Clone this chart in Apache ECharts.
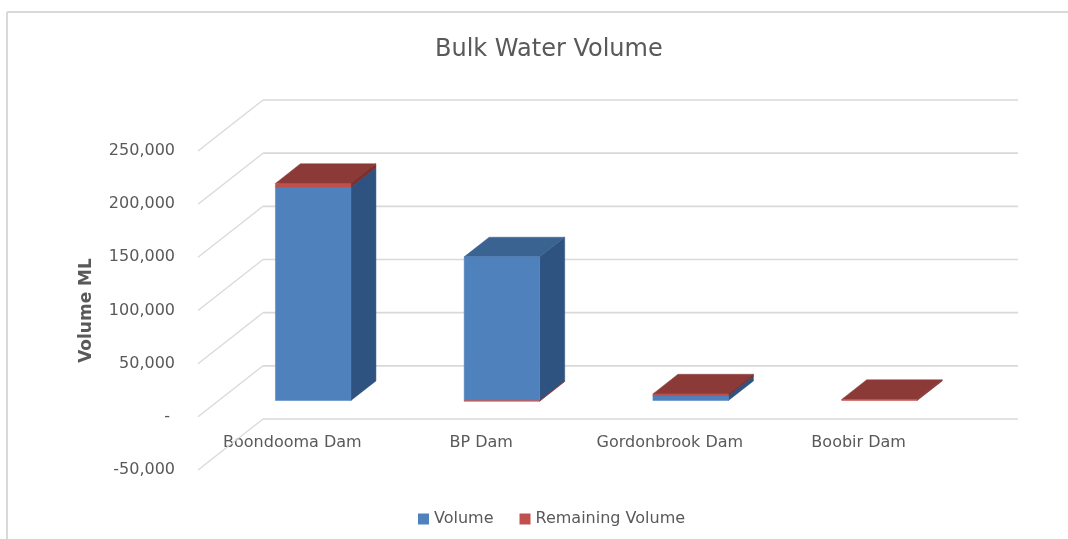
<!DOCTYPE html>
<html>
<head>
<meta charset="utf-8">
<script src="https://cdn.jsdelivr.net/npm/echarts@6/dist/echarts.min.js"></script>
<style>
html,body{margin:0;padding:0;background:#fff;overflow:hidden;}
#chart{width:1068px;height:539px;}
</style>
</head>
<body>
<div id="chart"></div>
<script>
// ---- data ----
const categories = ['Boondooma Dam', 'BP Dam', 'Gordonbrook Dam', 'Boobir Dam'];
const volume = [200800, 135100, 4700, 0];
const remainingVolume = [3400, -700, 1500, 1000];
const yTicks = [-50000, 0, 50000, 100000, 150000, 200000, 250000];
const yTickLabels = ['-50,000', '- ', '50,000', '100,000', '150,000', '200,000', '250,000'];
const seriesNames = ['Volume', 'Remaining Volume'];

// ---- 3D look (style only) ----
const DX = 65, DY = -51;      // depth of the plot box (front plane -> back wall)
const F1 = 0.32, DEPTH = 0.385, BAR_W = 0.4;
const FONT = 'DejaVu Sans';
const TXT = '#595959';
const GRID = '#d9d9d9';
const GRID_H = 319;
const faces = [
  { front: '#4F81BD', side: '#2F5380', top: '#3A6392' },
  { front: '#C0504D', side: '#7E2F2D', top: '#8C3A38' }
];

// build stacked segments [catIndex, bottom, top]
function stackSegments(seriesArrays) {
  const posBase = categories.map(() => 0);
  const negBase = categories.map(() => 0);
  return seriesArrays.map(arr => arr.map((v, i) => {
    if (v >= 0) { const b = posBase[i]; posBase[i] += v; return [i, b, b + v]; }
    const b = negBase[i]; negBase[i] += v; return [i, b, b + v];
  }));
}
const segs = stackSegments([volume, remainingVolume]);

function barRenderer(col) {
  return function (params, api) {
    const i = api.value(0), b = api.value(1), t = api.value(2);
    if (b === t) return null;
    const band = api.size([1, 0])[0];
    const w = band * BAR_W;
    const c0 = api.coord([i, b]), c1 = api.coord([i, t]);
    const ox = DX * F1, oy = DY * F1;
    const dx = DX * DEPTH, dy = DY * DEPTH;
    const x0 = c0[0] + ox - w / 2, x1 = x0 + w;
    const yb = c0[1] + oy, yt = c1[1] + oy;
    const yTop = Math.min(yb, yt), yBot = Math.max(yb, yt);
    const children = [
      { type: 'polygon', shape: { points: [[x1, yTop], [x1 + dx, yTop + dy], [x1 + dx, yBot + dy], [x1, yBot]] },
        style: { fill: col.side, stroke: col.side, lineWidth: 0.5 } }
    ];
    if (t > b) {
      children.push({ type: 'polygon', shape: { points: [[x0, yTop], [x0 + dx, yTop + dy], [x1 + dx, yTop + dy], [x1, yTop]] },
        style: { fill: col.top, stroke: col.top, lineWidth: 0.5 } });
    }
    children.push({ type: 'rect', shape: { x: x0, y: yTop, width: w, height: Math.max(yBot - yTop, 0.8) },
      style: { fill: col.front, stroke: col.front, lineWidth: 0.5 } });
    return { type: 'group', children };
  };
}

function wallRenderer(params, api) {
  const cs = params.coordSys;
  const y = api.coord([0, api.value(1)])[1];
  return {
    type: 'group',
    children: [
      { type: 'line', shape: { x1: cs.x, y1: y, x2: cs.x + DX, y2: y + DY }, style: { stroke: GRID, lineWidth: 1.3 } },
      { type: 'line', shape: { x1: cs.x + DX, y1: y + DY, x2: cs.x + cs.width + DX, y2: y + DY }, style: { stroke: GRID, lineWidth: 1.6 } }
    ]
  };
}

const yMin = yTicks[0], yMax = yTicks[yTicks.length - 1];
// move the category axis up from the grid bottom to the zero level
const zeroOffset = -GRID_H * (0 - yMin) / (yMax - yMin);

const chart = echarts.init(document.getElementById('chart'), null, { renderer: 'canvas' });
chart.setOption({
  animation: false,
  backgroundColor: '#fff',
  textStyle: { fontFamily: FONT },
  graphic: [
    { type: 'line', silent: true, z: -10, shape: { x1: 7, y1: 12, x2: 1068, y2: 12 }, style: { stroke: '#d9d9d9', lineWidth: 2 } },
    { type: 'line', silent: true, z: -10, shape: { x1: 7, y1: 12, x2: 7, y2: 539 }, style: { stroke: '#d9d9d9', lineWidth: 2 } }
  ],
  title: {
    text: 'Bulk Water Volume',
    left: 430, top: 33,
    textStyle: { fontFamily: FONT, fontSize: 24, fontWeight: 'normal', color: TXT }
  },
  legend: {
    data: seriesNames,
    left: 413, top: 506,
    itemWidth: 11, itemHeight: 11, itemGap: 26,
    icon: 'rect',
    textStyle: { fontFamily: FONT, fontSize: 16, color: TXT }
  },
  grid: { left: 198, top: 151, width: 755, height: GRID_H, containLabel: false },
  xAxis: {
    type: 'category',
    data: categories,
    offset: zeroOffset,
    axisLine: { show: false, onZero: false },
    axisTick: { show: false },
    axisLabel: { margin: 18, fontFamily: FONT, fontSize: 16, color: TXT, interval: 0 },
    splitLine: { show: false }
  },
  yAxis: {
    type: 'value',
    min: yMin, max: yMax, interval: 50000,
    name: 'Volume ML',
    nameLocation: 'middle',
    nameRotate: 90,
    nameGap: 103,
    nameTextStyle: { fontFamily: FONT, fontSize: 17, fontWeight: 'bold', color: TXT },
    axisLine: { show: false },
    axisTick: { show: false },
    splitLine: { show: false },
    axisLabel: {
      margin: 23, fontFamily: FONT, fontSize: 16, color: TXT,
      formatter: v => { const k = yTicks.indexOf(v); return k >= 0 ? yTickLabels[k] : ''; }
    }
  },
  series: [
    {
      name: 'walls', type: 'custom', silent: true, z: 1,
      renderItem: wallRenderer,
      encode: { x: 0, y: 1 },
      data: yTicks.map(v => [0, v])
    },
    {
      name: seriesNames[0], type: 'custom', z: 3,
      itemStyle: { color: faces[0].front },
      renderItem: barRenderer(faces[0]),
      encode: { x: 0, y: [1, 2] },
      data: segs[0]
    },
    {
      name: seriesNames[1], type: 'custom', z: 4,
      itemStyle: { color: faces[1].front },
      renderItem: barRenderer(faces[1]),
      encode: { x: 0, y: [1, 2] },
      data: segs[1]
    }
  ]
});
</script>
</body>
</html>
